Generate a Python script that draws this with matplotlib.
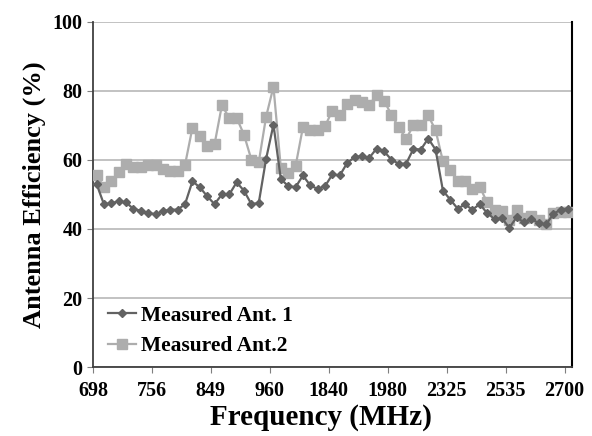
import matplotlib

matplotlib.use("Agg")
import matplotlib.pyplot as plt
import numpy as np

plt.rc("font", family=["Liberation Serif", "DejaVu Serif"], weight="bold")
plt.rc("axes", labelweight="bold")

# tick labels on the category axis (every 8th category)
tick_labels = ["698", "756", "849", "960", "1840", "1980", "2325", "2535", "2700"]

# measured efficiency (%), one value per category
ant1 = [53.0, 47.1, 47.5, 48.0, 47.7, 45.8, 45.3, 44.6, 44.3, 45.1,
        45.6, 45.6, 47.2, 53.8, 52.1, 49.5, 47.2, 50.0, 50.0, 53.5,
        51.1, 47.2, 47.5, 60.3, 70.2, 54.5, 52.4, 52.1, 55.5, 52.6,
        51.6, 52.4, 55.8, 55.5, 59.1, 60.8, 61.1, 60.6, 63.3, 62.5,
        60.1, 58.9, 58.9, 63.2, 63.0, 66.2, 63.0, 51.1, 48.5, 45.9,
        47.1, 45.6, 47.2, 44.6, 42.9, 43.2, 40.3, 43.4, 41.9, 42.9,
        41.7, 41.3, 44.4, 45.6, 45.8]
ant2 = [55.5, 52.2, 54.0, 56.4, 58.9, 57.9, 57.9, 58.4, 58.6, 57.5,
        56.7, 56.7, 58.6, 69.3, 66.9, 64.0, 64.5, 75.8, 72.2, 72.2,
        67.3, 60.1, 59.3, 72.5, 81.2, 57.7, 56.2, 58.2, 69.5, 68.6,
        68.6, 69.8, 74.3, 72.9, 76.3, 77.3, 76.8, 76.0, 78.7, 77.2,
        73.1, 69.5, 66.1, 70.0, 70.0, 72.9, 68.6, 59.6, 57.2, 54.0,
        54.0, 51.7, 52.2, 47.7, 45.6, 45.3, 42.5, 45.6, 43.2, 43.7,
        42.5, 41.5, 44.6, 44.9, 44.9]

n = len(ant1)
x = np.arange(n) + 0.5

fig = plt.figure(figsize=(5.92, 4.36), dpi=100)
ax = fig.add_axes([0.157, 0.158, 0.809, 0.792])

ax.plot(x, ant2, color="#adadad", marker="s", markersize=6.5, linewidth=1.6,
        label="Measured Ant.2", zorder=3)
ax.plot(x, ant1, color="#626262", marker="D", markersize=4.5, linewidth=1.6,
        label="Measured Ant. 1", zorder=4)

ax.set_xlim(0, n)
ax.set_ylim(0, 100)
ax.set_yticks(np.arange(0, 101, 20))
ax.set_xticks(np.arange(0, n, 8))
ax.set_xticklabels(tick_labels)
ax.tick_params(axis="both", labelsize=14.5, length=4, width=0.8, color="#7f7f7f")
ax.tick_params(axis="x", pad=6)

ax.yaxis.grid(True, color="#bdbdbd", linewidth=1.3)
ax.set_axisbelow(True)
ax.spines["top"].set_visible(False)
ax.spines["left"].set_color("#404040")
ax.spines["left"].set_linewidth(1.3)
ax.spines["bottom"].set_color("#404040")
ax.spines["bottom"].set_linewidth(1.3)
ax.spines["right"].set_color("black")
ax.spines["right"].set_linewidth(1.5)

ax.set_xlabel("Frequency (MHz)", fontsize=21, fontweight="bold", labelpad=2)
ax.xaxis.label.set_x(0.476)
ax.set_ylabel("Antenna Efficiency (%)", fontsize=19, fontweight="bold", labelpad=5)

handles, labels = ax.get_legend_handles_labels()
ax.legend(handles[::-1], labels[::-1], loc="lower left", bbox_to_anchor=(-0.01, -0.025),
          frameon=False, fontsize=15.5, handlelength=1.3, handletextpad=0.25,
          labelspacing=0.5)

fig.savefig("out.png", dpi=100)
